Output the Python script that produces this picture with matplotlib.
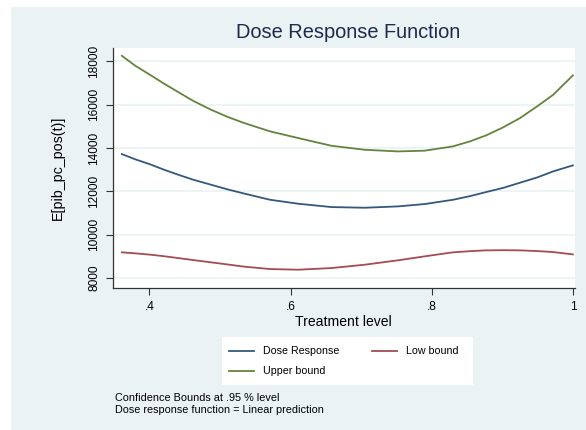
import matplotlib
matplotlib.use('Agg')
import matplotlib.pyplot as plt
from matplotlib.patches import Rectangle
from matplotlib.lines import Line2D

plt.rcParams['font.family'] = ['Liberation Sans', 'DejaVu Sans']

# valori
treatment = [0.361, 0.380, 0.401, 0.420, 0.439, 0.462, 0.486, 0.510, 0.533, 0.571,
             0.611, 0.658, 0.705, 0.752, 0.790, 0.830, 0.854, 0.877, 0.901, 0.925,
             0.950, 0.972, 1.0]
upper_bound = [18260, 17800, 17380, 16990, 16620, 16180, 15790, 15450, 15170, 14770,
               14461, 14106, 13922, 13845, 13880, 14077, 14308, 14585, 14954, 15383,
               15940, 16459, 17354]
dose_response = [13722, 13480, 13250, 13010, 12790, 12540, 12320, 12100, 11910, 11613,
                 11430, 11276, 11245, 11307, 11415, 11613, 11780, 11969, 12160, 12400,
                 12650, 12924, 13201]
low_bound = [9186, 9140, 9080, 9010, 8930, 8830, 8730, 8630, 8530, 8415,
             8385, 8461, 8615, 8817, 9001, 9186, 9240, 9278, 9285, 9278,
             9245, 9200, 9092]

y_ticks = [8000, 10000, 12000, 14000, 16000, 18000]
x_ticks = [0.4, 0.6, 0.8, 1.0]
x_labels = ['.4', '.6', '.8', '1']

bg = '#EAF2F3'
c_blue = '#33587F'
c_red = '#A44C52'
c_green = '#62843C'

fig = plt.figure(figsize=(5.86, 4.30), dpi=100)
fig.patch.set_facecolor('white')
# pannello di sfondo stile Stata
fig.add_artist(Rectangle((11 / 586, 0), 1, 1 - 7 / 430, transform=fig.transFigure,
                         facecolor=bg, edgecolor='none', zorder=-10))

ax = fig.add_axes([112.7 / 586, 1 - 288 / 430, (575 - 112.7) / 586, (288 - 48) / 430])
ax.set_zorder(1)
ax.set_facecolor('white')

ax.plot(treatment, dose_response, color=c_blue, lw=1.3)
ax.plot(treatment, low_bound, color=c_red, lw=1.3)
ax.plot(treatment, upper_bound, color=c_green, lw=1.3)

ax.set_xlim(0.348, 1.003)
ax.set_ylim(7540, 18620)

ax.set_yticks(y_ticks)
ax.set_yticklabels([str(v) for v in y_ticks], rotation=90, va='center', fontsize=8.6)
ax.set_xticks(x_ticks)
ax.set_xticklabels(x_labels, fontsize=8.6)
ax.tick_params(axis='both', direction='out', length=4.7, width=0.8, color='#333333',
               labelcolor='black', pad=4.3)
ax.grid(axis='y', color=bg, lw=1.2)
ax.set_axisbelow(True)
for s in ['top', 'right']:
    ax.spines[s].set_visible(False)
for s in ['left', 'bottom']:
    ax.spines[s].set_color('#333333')
    ax.spines[s].set_linewidth(0.9)

ax.set_xlabel('Treatment level', fontsize=10.1, labelpad=2)
ax.set_ylabel('E[pib_pc_pos(t)]', fontsize=10.3)
ax.yaxis.set_label_coords(-0.103, 0.5)

fig.text(348 / 586, 1 - 33 / 430, 'Dose Response Function', ha='center', va='center',
         fontsize=14.4, color='#1C2B4F')

# legenda
fig.add_artist(Rectangle((222 / 586, 1 - 385 / 430), (473 - 222) / 586, 48 / 430,
                         transform=fig.transFigure, facecolor='white',
                         edgecolor='none', zorder=1))
entries = [(229, 351, c_blue, 'Dose Response'),
           (372, 351, c_red, 'Low bound'),
           (229, 371, c_green, 'Upper bound')]
for x0, y0, col, lab in entries:
    fig.add_artist(Line2D([x0 / 586, (x0 + 25) / 586], [1 - y0 / 430, 1 - y0 / 430],
                          color=col, lw=1.3, transform=fig.transFigure, zorder=2))
    fig.text((x0 + 34) / 586, 1 - y0 / 430, lab, ha='left', va='center', fontsize=7.7, zorder=2)

fig.text(115 / 586, 1 - 398 / 430, 'Confidence Bounds at .95 % level',
         ha='left', va='center', fontsize=7.8)
fig.text(115 / 586, 1 - 410 / 430, 'Dose response function = Linear prediction',
         ha='left', va='center', fontsize=7.8)

fig.savefig('out.png', dpi=100, facecolor=fig.get_facecolor())
